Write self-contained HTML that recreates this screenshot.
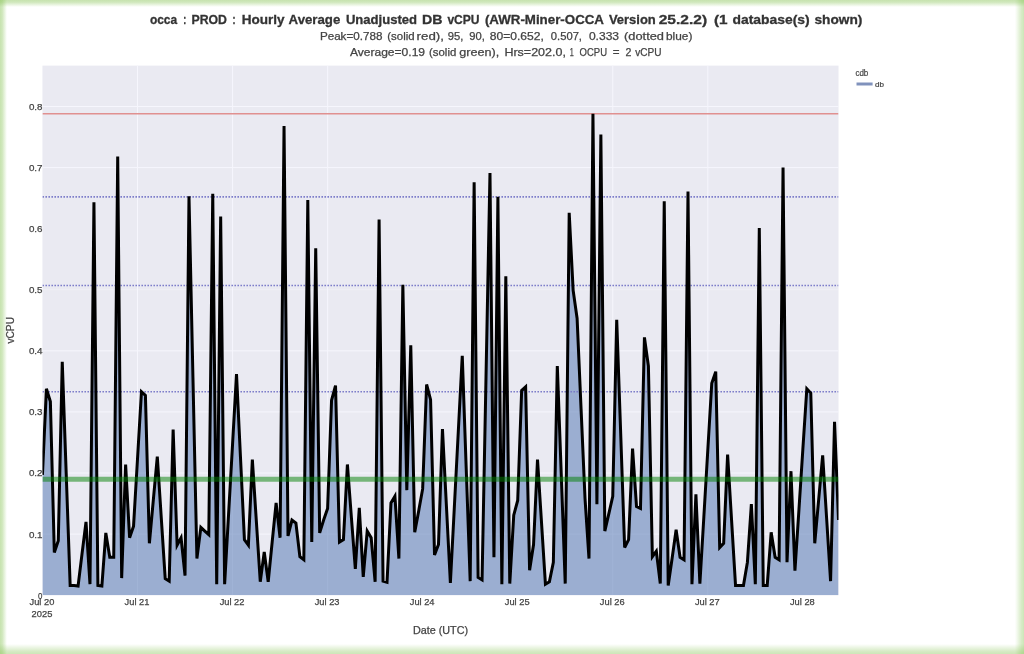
<!DOCTYPE html>
<html><head><meta charset="utf-8">
<style>
html,body{margin:0;padding:0;background:#fff;}
body{width:1024px;height:654px;overflow:hidden;position:relative;}
svg{position:absolute;left:0;top:0;will-change:transform;}
text{font-family:"Liberation Sans",sans-serif;}
.g{position:absolute;pointer-events:none;}
.gl{left:0;top:0;width:7px;height:654px;background:linear-gradient(to right,rgba(135,195,85,0.47) 0,rgba(135,195,85,0.40) 30%,rgba(135,195,85,0) 100%);}
.gt{left:0;top:0;width:1024px;height:7px;background:linear-gradient(to bottom,rgba(135,195,85,0.47) 0,rgba(135,195,85,0.40) 30%,rgba(135,195,85,0) 100%);}
.gr{right:0;top:0;width:9px;height:654px;background:linear-gradient(to left,rgba(135,195,85,0.42) 0,rgba(135,195,85,0.33) 30%,rgba(135,195,85,0) 100%);}
.gb{left:0;bottom:0;width:1024px;height:10px;background:linear-gradient(to top,rgba(135,195,85,0.42) 0,rgba(135,195,85,0.33) 30%,rgba(135,195,85,0) 100%);}
</style></head><body>
<svg width="1024" height="654" viewBox="0 0 1024 654">
<rect x="0" y="0" width="1024" height="654" fill="#fff"/>
<rect x="42.45" y="65.6" width="796.05" height="529.60" fill="#EAEAF2"/>
<g stroke="#F6F6FD" stroke-width="1">
<line x1="42.45" y1="534.11" x2="838.5" y2="534.11"/>
<line x1="42.45" y1="473.02" x2="838.5" y2="473.02"/>
<line x1="42.45" y1="411.93" x2="838.5" y2="411.93"/>
<line x1="42.45" y1="350.84" x2="838.5" y2="350.84"/>
<line x1="42.45" y1="289.75" x2="838.5" y2="289.75" stroke-opacity="0.45"/>
<line x1="42.45" y1="167.57" x2="838.5" y2="167.57"/>
<line x1="42.45" y1="106.48" x2="838.5" y2="106.48"/>
<line x1="137.50" y1="65.6" x2="137.50" y2="595.2"/>
<line x1="232.55" y1="65.6" x2="232.55" y2="595.2"/>
<line x1="327.60" y1="65.6" x2="327.60" y2="595.2"/>
<line x1="612.75" y1="65.6" x2="612.75" y2="595.2"/>
<line x1="707.81" y1="65.6" x2="707.81" y2="595.2"/>
</g>
<clipPath id="pc"><rect x="42.45" y="65.6" width="796.05" height="529.60"/></clipPath>
<g clip-path="url(#pc)">
<path d="M42.45,595.20 L42.45,474.85 L46.41,388.72 L50.37,401.54 L54.33,552.44 L58.29,540.83 L62.25,361.84 L66.21,473.63 L70.17,585.43 L74.13,585.43 L78.09,586.04 L82.05,553.66 L86.01,521.89 L89.98,584.20 L93.94,202.39 L97.90,585.43 L101.86,586.04 L105.82,532.89 L109.78,557.32 L113.74,557.32 L117.70,156.57 L121.66,578.09 L125.62,464.47 L129.58,537.78 L133.54,526.17 L137.50,458.97 L141.46,391.77 L145.42,395.44 L149.38,543.27 L153.34,499.90 L157.30,456.53 L161.26,517.62 L165.22,578.71 L169.18,581.15 L173.14,429.65 L177.11,545.11 L181.07,537.78 L185.03,575.65 L188.99,196.28 L192.95,377.72 L196.91,558.55 L200.87,527.39 L204.83,531.06 L208.79,534.72 L212.75,193.84 L216.71,584.20 L220.67,216.44 L224.63,584.20 L228.59,513.95 L232.55,444.31 L236.51,374.05 L240.47,457.14 L244.43,539.61 L248.39,545.11 L252.35,459.58 L256.31,520.67 L260.27,581.76 L264.24,551.83 L268.20,581.76 L272.16,542.05 L276.12,502.95 L280.08,537.78 L284.04,126.03 L288.00,535.94 L291.96,520.06 L295.92,523.11 L299.88,556.71 L303.84,559.77 L307.80,199.95 L311.76,542.05 L315.72,248.21 L319.68,532.89 L323.64,520.06 L327.60,508.45 L331.56,400.32 L335.52,385.66 L339.48,542.05 L343.44,539.61 L347.40,464.47 L351.36,517.00 L355.33,568.93 L359.29,507.84 L363.25,576.87 L367.21,531.06 L371.17,537.78 L375.13,581.76 L379.09,219.50 L383.05,581.15 L387.01,582.37 L390.97,502.95 L394.93,496.23 L398.89,558.55 L402.85,284.86 L406.81,490.13 L410.77,345.34 L414.73,532.28 L418.69,510.90 L422.65,488.90 L426.61,384.44 L430.57,399.71 L434.53,554.88 L438.49,544.50 L442.46,429.04 L446.42,506.01 L450.38,582.98 L454.34,507.23 L458.30,431.48 L462.26,355.73 L466.22,468.74 L470.18,581.15 L474.14,182.23 L478.10,577.48 L482.06,579.93 L486.02,376.50 L489.98,173.07 L493.94,557.32 L497.90,196.89 L501.86,584.20 L505.82,276.31 L509.78,583.59 L513.74,515.17 L517.70,500.51 L521.66,390.55 L525.62,386.88 L529.59,570.15 L533.55,544.50 L537.51,459.58 L541.47,521.89 L545.43,584.20 L549.39,581.76 L553.35,562.21 L557.31,366.11 L561.27,474.85 L565.23,583.59 L569.19,212.78 L573.15,290.36 L577.11,318.46 L581.07,408.88 L585.03,498.68 L588.99,558.55 L592.95,113.81 L596.91,504.18 L600.87,134.58 L604.83,531.06 L608.79,513.95 L612.75,496.23 L616.71,319.68 L620.68,433.31 L624.64,547.55 L628.60,539.61 L632.56,448.58 L636.52,506.62 L640.48,508.45 L644.44,337.40 L648.40,366.11 L652.36,556.71 L656.32,551.22 L660.28,583.59 L664.24,201.17 L668.20,585.43 L672.16,557.94 L676.12,529.83 L680.08,557.32 L684.04,559.77 L688.00,191.40 L691.96,584.20 L695.92,494.40 L699.88,583.59 L703.84,517.00 L707.81,449.81 L711.77,383.22 L715.73,371.61 L719.69,547.55 L723.65,543.27 L727.61,454.69 L731.57,520.06 L735.53,585.43 L739.49,585.43 L743.45,585.43 L747.41,562.21 L751.37,504.18 L755.33,584.20 L759.29,228.05 L763.25,585.43 L767.21,585.43 L771.17,532.28 L775.13,557.32 L779.09,559.77 L783.05,167.57 L787.01,562.21 L790.97,471.19 L794.94,570.76 L798.90,510.28 L802.86,449.19 L806.82,388.72 L810.78,392.99 L814.74,543.27 L818.70,499.29 L822.66,455.30 L826.62,518.23 L830.58,581.15 L834.54,421.70 L838.50,520.06 L838.50,595.20 Z" fill="rgba(76,114,176,0.5)" stroke="none"/>
<line x1="42.45" y1="113.81" x2="838.5" y2="113.81" stroke="#E09090" stroke-width="1.6"/>
<g stroke="#7878C8" stroke-width="1.6" stroke-dasharray="1.5,1.5">
<line x1="42.45" y1="196.89" x2="838.5" y2="196.89"/>
<line x1="42.45" y1="285.47" x2="838.5" y2="285.47"/>
<line x1="42.45" y1="391.77" x2="838.5" y2="391.77"/>
</g>
<polyline points="42.45,474.85 46.41,388.72 50.37,401.54 54.33,552.44 58.29,540.83 62.25,361.84 66.21,473.63 70.17,585.43 74.13,585.43 78.09,586.04 82.05,553.66 86.01,521.89 89.98,584.20 93.94,202.39 97.90,585.43 101.86,586.04 105.82,532.89 109.78,557.32 113.74,557.32 117.70,156.57 121.66,578.09 125.62,464.47 129.58,537.78 133.54,526.17 137.50,458.97 141.46,391.77 145.42,395.44 149.38,543.27 153.34,499.90 157.30,456.53 161.26,517.62 165.22,578.71 169.18,581.15 173.14,429.65 177.11,545.11 181.07,537.78 185.03,575.65 188.99,196.28 192.95,377.72 196.91,558.55 200.87,527.39 204.83,531.06 208.79,534.72 212.75,193.84 216.71,584.20 220.67,216.44 224.63,584.20 228.59,513.95 232.55,444.31 236.51,374.05 240.47,457.14 244.43,539.61 248.39,545.11 252.35,459.58 256.31,520.67 260.27,581.76 264.24,551.83 268.20,581.76 272.16,542.05 276.12,502.95 280.08,537.78 284.04,126.03 288.00,535.94 291.96,520.06 295.92,523.11 299.88,556.71 303.84,559.77 307.80,199.95 311.76,542.05 315.72,248.21 319.68,532.89 323.64,520.06 327.60,508.45 331.56,400.32 335.52,385.66 339.48,542.05 343.44,539.61 347.40,464.47 351.36,517.00 355.33,568.93 359.29,507.84 363.25,576.87 367.21,531.06 371.17,537.78 375.13,581.76 379.09,219.50 383.05,581.15 387.01,582.37 390.97,502.95 394.93,496.23 398.89,558.55 402.85,284.86 406.81,490.13 410.77,345.34 414.73,532.28 418.69,510.90 422.65,488.90 426.61,384.44 430.57,399.71 434.53,554.88 438.49,544.50 442.46,429.04 446.42,506.01 450.38,582.98 454.34,507.23 458.30,431.48 462.26,355.73 466.22,468.74 470.18,581.15 474.14,182.23 478.10,577.48 482.06,579.93 486.02,376.50 489.98,173.07 493.94,557.32 497.90,196.89 501.86,584.20 505.82,276.31 509.78,583.59 513.74,515.17 517.70,500.51 521.66,390.55 525.62,386.88 529.59,570.15 533.55,544.50 537.51,459.58 541.47,521.89 545.43,584.20 549.39,581.76 553.35,562.21 557.31,366.11 561.27,474.85 565.23,583.59 569.19,212.78 573.15,290.36 577.11,318.46 581.07,408.88 585.03,498.68 588.99,558.55 592.95,113.81 596.91,504.18 600.87,134.58 604.83,531.06 608.79,513.95 612.75,496.23 616.71,319.68 620.68,433.31 624.64,547.55 628.60,539.61 632.56,448.58 636.52,506.62 640.48,508.45 644.44,337.40 648.40,366.11 652.36,556.71 656.32,551.22 660.28,583.59 664.24,201.17 668.20,585.43 672.16,557.94 676.12,529.83 680.08,557.32 684.04,559.77 688.00,191.40 691.96,584.20 695.92,494.40 699.88,583.59 703.84,517.00 707.81,449.81 711.77,383.22 715.73,371.61 719.69,547.55 723.65,543.27 727.61,454.69 731.57,520.06 735.53,585.43 739.49,585.43 743.45,585.43 747.41,562.21 751.37,504.18 755.33,584.20 759.29,228.05 763.25,585.43 767.21,585.43 771.17,532.28 775.13,557.32 779.09,559.77 783.05,167.57 787.01,562.21 790.97,471.19 794.94,570.76 798.90,510.28 802.86,449.19 806.82,388.72 810.78,392.99 814.74,543.27 818.70,499.29 822.66,455.30 826.62,518.23 830.58,581.15 834.54,421.70 838.50,520.06" fill="none" stroke="#000" stroke-width="3" stroke-linejoin="miter"/>
<line x1="42.45" y1="479.13" x2="838.5" y2="479.13" stroke="rgba(0,128,0,0.5)" stroke-width="5"/>
</g>
<g fill="#444" font-size="9.2" stroke="#444" stroke-width="0.25">
<text x="38.10" y="598.60" textLength="4.4" lengthAdjust="spacingAndGlyphs">0</text>
<text x="28.90" y="537.51" textLength="13.6" lengthAdjust="spacingAndGlyphs">0.1</text>
<text x="28.90" y="476.42" textLength="13.6" lengthAdjust="spacingAndGlyphs">0.2</text>
<text x="28.90" y="415.33" textLength="13.6" lengthAdjust="spacingAndGlyphs">0.3</text>
<text x="28.90" y="354.24" textLength="13.6" lengthAdjust="spacingAndGlyphs">0.4</text>
<text x="28.90" y="293.15" textLength="13.6" lengthAdjust="spacingAndGlyphs">0.5</text>
<text x="28.90" y="232.06" textLength="13.6" lengthAdjust="spacingAndGlyphs">0.6</text>
<text x="28.90" y="170.97" textLength="13.6" lengthAdjust="spacingAndGlyphs">0.7</text>
<text x="28.90" y="109.88" textLength="13.6" lengthAdjust="spacingAndGlyphs">0.8</text>
<text x="29.55" y="605.2" textLength="24.8" lengthAdjust="spacingAndGlyphs">Jul 20</text>
<text x="124.60" y="605.2" textLength="24.8" lengthAdjust="spacingAndGlyphs">Jul 21</text>
<text x="219.65" y="605.2" textLength="24.8" lengthAdjust="spacingAndGlyphs">Jul 22</text>
<text x="314.70" y="605.2" textLength="24.8" lengthAdjust="spacingAndGlyphs">Jul 23</text>
<text x="409.75" y="605.2" textLength="24.8" lengthAdjust="spacingAndGlyphs">Jul 24</text>
<text x="504.80" y="605.2" textLength="24.8" lengthAdjust="spacingAndGlyphs">Jul 25</text>
<text x="599.85" y="605.2" textLength="24.8" lengthAdjust="spacingAndGlyphs">Jul 26</text>
<text x="694.91" y="605.2" textLength="24.8" lengthAdjust="spacingAndGlyphs">Jul 27</text>
<text x="789.96" y="605.2" textLength="24.8" lengthAdjust="spacingAndGlyphs">Jul 28</text>
<text x="31.60" y="617" textLength="20.8" lengthAdjust="spacingAndGlyphs">2025</text>
</g>
<text x="149.90" y="23.8" font-size="13" font-weight="bold" fill="#333" textLength="27.30" lengthAdjust="spacingAndGlyphs" stroke="#333" stroke-width="0.3">occa</text>
<text x="183.30" y="23.8" font-size="13" font-weight="bold" fill="#333" textLength="3.00" lengthAdjust="spacingAndGlyphs" stroke="#333" stroke-width="0.3">:</text>
<text x="191.50" y="23.8" font-size="13" font-weight="bold" fill="#333" textLength="35.50" lengthAdjust="spacingAndGlyphs" stroke="#333" stroke-width="0.3">PROD</text>
<text x="232.50" y="23.8" font-size="13" font-weight="bold" fill="#333" textLength="3.00" lengthAdjust="spacingAndGlyphs" stroke="#333" stroke-width="0.3">:</text>
<text x="241.70" y="23.8" font-size="13" font-weight="bold" fill="#333" textLength="42.90" lengthAdjust="spacingAndGlyphs" stroke="#333" stroke-width="0.3">Hourly</text>
<text x="288.60" y="23.8" font-size="13" font-weight="bold" fill="#333" textLength="51.70" lengthAdjust="spacingAndGlyphs" stroke="#333" stroke-width="0.3">Average</text>
<text x="345.90" y="23.8" font-size="13" font-weight="bold" fill="#333" textLength="71.20" lengthAdjust="spacingAndGlyphs" stroke="#333" stroke-width="0.3">Unadjusted</text>
<text x="422.00" y="23.8" font-size="13" font-weight="bold" fill="#333" textLength="20.50" lengthAdjust="spacingAndGlyphs" stroke="#333" stroke-width="0.3">DB</text>
<text x="447.40" y="23.8" font-size="13" font-weight="bold" fill="#333" textLength="32.20" lengthAdjust="spacingAndGlyphs" stroke="#333" stroke-width="0.3">vCPU</text>
<text x="484.90" y="23.8" font-size="13" font-weight="bold" fill="#333" textLength="119.10" lengthAdjust="spacingAndGlyphs" stroke="#333" stroke-width="0.3">(AWR-Miner-OCCA</text>
<text x="608.90" y="23.8" font-size="13" font-weight="bold" fill="#333" textLength="46.90" lengthAdjust="spacingAndGlyphs" stroke="#333" stroke-width="0.3">Version</text>
<text x="658.70" y="23.8" font-size="13" font-weight="bold" fill="#333" textLength="48.40" lengthAdjust="spacingAndGlyphs" stroke="#333" stroke-width="0.3">25.2.2)</text>
<text x="714.00" y="23.8" font-size="13" font-weight="bold" fill="#333" textLength="13.60" lengthAdjust="spacingAndGlyphs" stroke="#333" stroke-width="0.3">(1</text>
<text x="732.50" y="23.8" font-size="13" font-weight="bold" fill="#333" textLength="77.10" lengthAdjust="spacingAndGlyphs" stroke="#333" stroke-width="0.3">database(s)</text>
<text x="814.50" y="23.8" font-size="13" font-weight="bold" fill="#333" textLength="47.90" lengthAdjust="spacingAndGlyphs" stroke="#333" stroke-width="0.3">shown)</text>
<text x="319.90" y="39.6" font-size="10.5" font-weight="normal" fill="#444" textLength="62.50" lengthAdjust="spacingAndGlyphs" stroke="#444" stroke-width="0.25">Peak=0.788</text>
<text x="387.30" y="39.6" font-size="10.5" font-weight="normal" fill="#444" textLength="27.30" lengthAdjust="spacingAndGlyphs" stroke="#444" stroke-width="0.25">(solid</text>
<text x="416.60" y="39.6" font-size="10.5" font-weight="normal" fill="#444" textLength="27.30" lengthAdjust="spacingAndGlyphs" stroke="#444" stroke-width="0.25">red),</text>
<text x="447.80" y="39.6" font-size="10.5" font-weight="normal" fill="#444" textLength="15.60" lengthAdjust="spacingAndGlyphs" stroke="#444" stroke-width="0.25">95,</text>
<text x="469.30" y="39.6" font-size="10.5" font-weight="normal" fill="#444" textLength="15.60" lengthAdjust="spacingAndGlyphs" stroke="#444" stroke-width="0.25">90,</text>
<text x="489.80" y="39.6" font-size="10.5" font-weight="normal" fill="#444" textLength="54.10" lengthAdjust="spacingAndGlyphs" stroke="#444" stroke-width="0.25">80=0.652,</text>
<text x="550.80" y="39.6" font-size="10.5" font-weight="normal" fill="#444" textLength="31.20" lengthAdjust="spacingAndGlyphs" stroke="#444" stroke-width="0.25">0.507,</text>
<text x="588.90" y="39.6" font-size="10.5" font-weight="normal" fill="#444" textLength="30.20" lengthAdjust="spacingAndGlyphs" stroke="#444" stroke-width="0.25">0.333</text>
<text x="624.00" y="39.6" font-size="10.5" font-weight="normal" fill="#444" textLength="40.00" lengthAdjust="spacingAndGlyphs" stroke="#444" stroke-width="0.25">(dotted</text>
<text x="666.00" y="39.6" font-size="10.5" font-weight="normal" fill="#444" textLength="26.40" lengthAdjust="spacingAndGlyphs" stroke="#444" stroke-width="0.25">blue)</text>
<text x="349.90" y="55.8" font-size="10.5" font-weight="normal" fill="#444" textLength="75.20" lengthAdjust="spacingAndGlyphs" stroke="#444" stroke-width="0.25">Average=0.19</text>
<text x="429.00" y="55.8" font-size="10.5" font-weight="normal" fill="#444" textLength="27.30" lengthAdjust="spacingAndGlyphs" stroke="#444" stroke-width="0.25">(solid</text>
<text x="459.30" y="55.8" font-size="10.5" font-weight="normal" fill="#444" textLength="40.00" lengthAdjust="spacingAndGlyphs" stroke="#444" stroke-width="0.25">green),</text>
<text x="504.40" y="55.8" font-size="10.5" font-weight="normal" fill="#444" textLength="61.50" lengthAdjust="spacingAndGlyphs" stroke="#444" stroke-width="0.25">Hrs=202.0,</text>
<text x="569.80" y="55.8" font-size="10.5" font-weight="normal" fill="#444" textLength="4.00" lengthAdjust="spacingAndGlyphs" stroke="#444" stroke-width="0.25">1</text>
<text x="579.60" y="55.8" font-size="10.5" font-weight="normal" fill="#444" textLength="27.40" lengthAdjust="spacingAndGlyphs" stroke="#444" stroke-width="0.25">OCPU</text>
<text x="612.80" y="55.8" font-size="10.5" font-weight="normal" fill="#444" textLength="6.80" lengthAdjust="spacingAndGlyphs" stroke="#444" stroke-width="0.25">=</text>
<text x="625.50" y="55.8" font-size="10.5" font-weight="normal" fill="#444" textLength="5.90" lengthAdjust="spacingAndGlyphs" stroke="#444" stroke-width="0.25">2</text>
<text x="635.30" y="55.8" font-size="10.5" font-weight="normal" fill="#444" textLength="26.30" lengthAdjust="spacingAndGlyphs" stroke="#444" stroke-width="0.25">vCPU</text>
<text x="440.5" y="633.9" text-anchor="middle" font-size="10" fill="#444" stroke="#444" stroke-width="0.25" textLength="55" lengthAdjust="spacingAndGlyphs">Date (UTC)</text>
<text transform="translate(14.2,330.3) rotate(-90)" text-anchor="middle" font-size="10" fill="#444" stroke="#444" stroke-width="0.25" textLength="26.6" lengthAdjust="spacingAndGlyphs">vCPU</text>
<text x="855.4" y="75.6" font-size="9" fill="#444" stroke="#444" stroke-width="0.2" textLength="12.9" lengthAdjust="spacingAndGlyphs">cdb</text>
<line x1="856.5" y1="84" x2="872.6" y2="84" stroke="#8092BC" stroke-width="3"/>
<text x="875" y="86.5" font-size="7.6" fill="#444" stroke="#444" stroke-width="0.2" textLength="9" lengthAdjust="spacingAndGlyphs">db</text>
</svg>
<div class="g gl"></div><div class="g gt"></div><div class="g gr"></div><div class="g gb"></div>
</body></html>
